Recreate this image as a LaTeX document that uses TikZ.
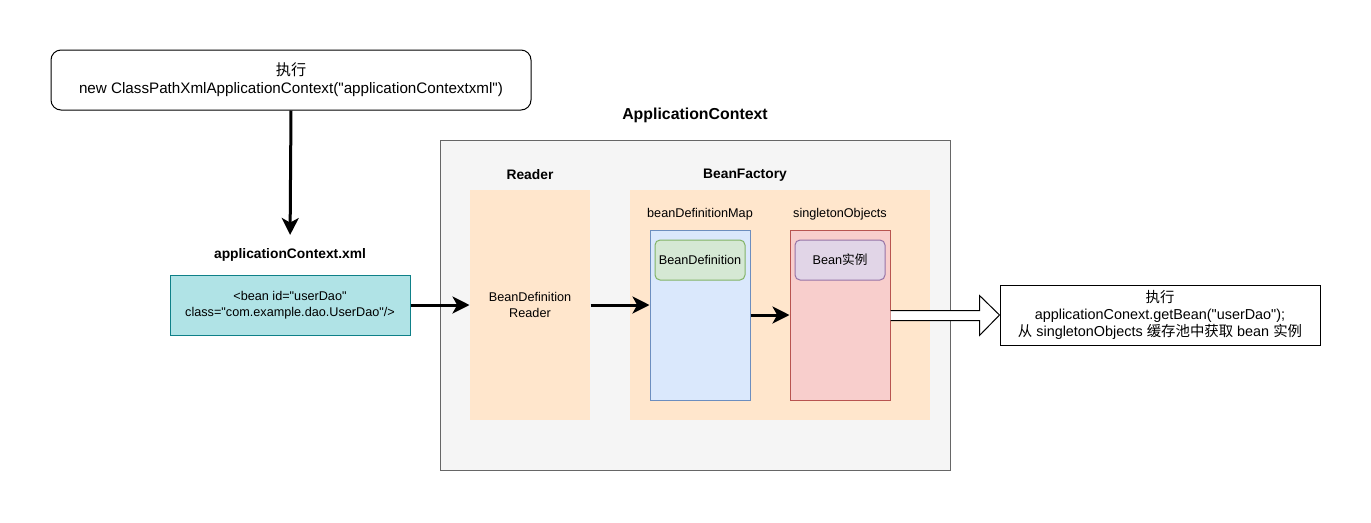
\documentclass[tikz,border=0pt]{standalone}
\usepackage{fontspec}
\setmainfont{Liberation Sans}[Ligatures=TeXOff]
\newfontfamily\cjk{Noto Sans CJK SC}
\usepackage{tikz}
\usetikzlibrary{calc}
\usetikzlibrary{arrows.meta}

\definecolor{xmlfill}{HTML}{B0E3E6}
\definecolor{xmldraw}{HTML}{0E8088}
\definecolor{ctxfill}{HTML}{F5F5F5}
\definecolor{ctxdraw}{HTML}{666666}
\definecolor{partfill}{HTML}{FFE6CC}
\definecolor{mapfill}{HTML}{DAE8FC}
\definecolor{mapdraw}{HTML}{6C8EBF}
\definecolor{deffill}{HTML}{D5E8D4}
\definecolor{defdraw}{HTML}{82B366}
\definecolor{objfill}{HTML}{F8CECC}
\definecolor{objdraw}{HTML}{B85450}
\definecolor{insfill}{HTML}{E1D5E7}
\definecolor{insdraw}{HTML}{9673A6}

\tikzset{
	box/.style={inner sep=0pt, align=center, line width=0.75pt, font=\fontsize{9.5}{12}\selectfont},
	title/.style={inner sep=0pt, font=\bfseries\fontsize{10.35}{12}\selectfont},
	small/.style={inner sep=0pt, font=\fontsize{9.5}{12}\selectfont},
	flow/.style={line width=2.25pt, -{Stealth[length=12.75pt,width=12.75pt,inset=3.5pt]}},
}

\begin{document}
\begin{tikzpicture}[x=0.75pt, y=-0.75pt]
			\useasboundingbox (0,0) rectangle (1371,522);

			% call of the constructor
			\node[box, draw, rounded corners=7.5pt, minimum width=360pt, minimum height=45pt, font=\fontsize{11.4}{13.5}\selectfont] (newctx) at (291,80)
				{{\cjk 执行}\\new ClassPathXmlApplicationContext("applicationContextxml")};

			\node[title] (xmllbl) at (290,255) {applicationContext.xml};
			\node[box, draw=xmldraw, fill=xmlfill, minimum width=180pt, minimum height=45pt] (xml) at (290,305)
				{<bean id="userDao"\\class="com.example.dao.UserDao"/>};

			% the context
			\node[title, font=\bfseries\fontsize{11.9}{14}\selectfont] (ctxlbl) at (695,115) {ApplicationContext};
			\node[box, draw=ctxdraw, fill=ctxfill, minimum width=382.5pt, minimum height=247.5pt] (ctx) at (695,305) {};

			\node[title] (readerlbl) at (530,175) {Reader};
			\node[box, fill=partfill, minimum width=90pt, minimum height=172.5pt] (reader) at (530,305)
				{BeanDefinition\\Reader};

			\node[title] (factorylbl) at (745,175) {BeanFactory};
			\node[box, fill=partfill, minimum width=225pt, minimum height=172.5pt] (factory) at (780,305) {};

			\node[small] (maplbl) at (700,214) {beanDefinitionMap};
			\node[box, draw=mapdraw, fill=mapfill, minimum width=75pt, minimum height=127.5pt] (bdmap) at (700,315) {};
			\node[box, draw=defdraw, fill=deffill, rounded corners=3.75pt, minimum width=67.5pt, minimum height=30pt] (beandef) at (700,260) {BeanDefinition};

			\node[small] (objlbl) at (840,214) {singletonObjects};
			\node[box, draw=objdraw, fill=objfill, minimum width=75pt, minimum height=127.5pt] (sobj) at (840,315) {};
			\node[box, draw=insdraw, fill=insfill, rounded corners=3.75pt, minimum width=67.5pt, minimum height=30pt] (beaninst) at (840,260) {Bean{\cjk 实例}};

			% getBean call
			\node[box, draw, minimum width=240pt, minimum height=45pt, font=\fontsize{10.8}{12.75}\selectfont] (getbean) at (1160,315)
				{{\cjk 执行}\\applicationConext.getBean("userDao");\\{\cjk 从} singletonObjects {\cjk 缓存池中获取} bean {\cjk 实例}};

			\draw[flow, shorten >=10] (newctx.south) -- (xmllbl.north);
			\draw[flow] (xml.east) -- (reader.west);
			\draw[flow] (reader.east) -- (reader.east -| bdmap.west);
			\draw[flow] (bdmap.east) -- (sobj.west);

			\draw[line width=0.75pt, fill=white] ($(sobj.east)+(0,-4.5)$) -- ($(getbean.west)+(-20,-4.5)$)
				-- ($(getbean.west)+(-20,-19.5)$) -- (getbean.west) -- ($(getbean.west)+(-20,20.5)$)
				-- ($(getbean.west)+(-20,5.5)$) -- ($(sobj.east)+(0,5.5)$);

		\end{tikzpicture}
\end{document}
